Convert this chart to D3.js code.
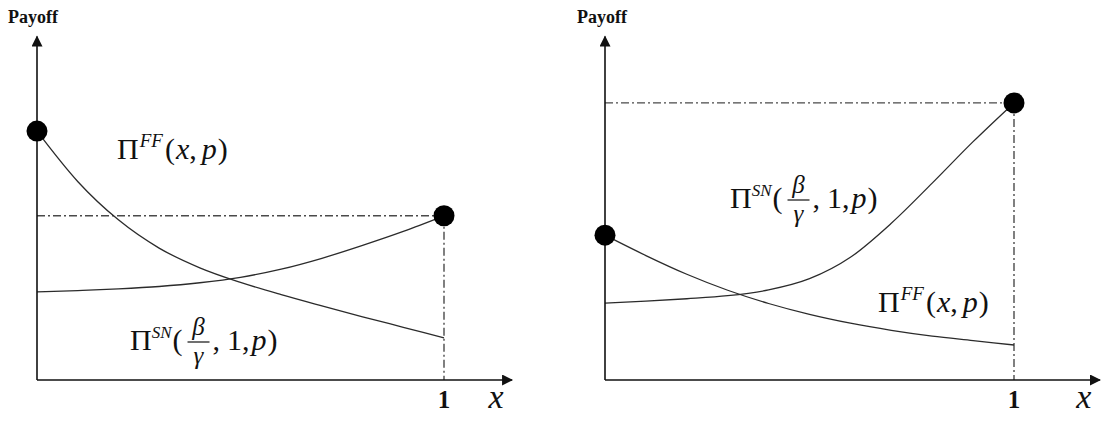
<!DOCTYPE html>
<html>
<head>
<meta charset="utf-8">
<script src="https://cdn.jsdelivr.net/npm/d3@7"></script>
<style>
  body { margin: 0; background: #fff; }
  svg { display: block; }
  .curve { fill: none; stroke: #2b2b2b; stroke-width: 1.3; }
  .guide { fill: none; stroke: #4a4a4a; stroke-width: 1.4; stroke-dasharray: 8,3,2,3; }
  .axis-line { stroke: #111; stroke-width: 1.6; }
  .math { font-family: "Liberation Serif", "Times New Roman", "DejaVu Serif", serif; fill: #111; }
</style>
</head>
<body>
<svg id="chart" width="1109" height="423"></svg>
<script>
var xs = [0, 0.1, 0.2, 0.3, 0.4, 0.5, 0.6, 0.7, 0.8, 0.9, 1];

// left panel: payoffs
var leftFF = [0.732, 0.584, 0.471, 0.388, 0.33, 0.287, 0.251, 0.218, 0.186, 0.155, 0.124];
var leftSN = [0.259, 0.263, 0.268, 0.275, 0.286, 0.302, 0.326, 0.358, 0.396, 0.437, 0.483];

// right panel: payoffs
var rightFF = [0.426, 0.366, 0.311, 0.264, 0.225, 0.193, 0.167, 0.146, 0.129, 0.116, 0.103];
var rightSN = [0.226, 0.232, 0.239, 0.248, 0.265, 0.298, 0.361, 0.461, 0.579, 0.701, 0.815];

var yLabel = "Payoff";
var xLabel = "x";
var xTick = "1";

var svg = d3.select("#chart");

svg.append("defs").append("marker")
    .attr("id", "arrow")
    .attr("viewBox", "0 0 10 10")
    .attr("refX", 9).attr("refY", 5)
    .attr("markerWidth", 13).attr("markerHeight", 11)
    .attr("markerUnits", "userSpaceOnUse")
    .attr("orient", "auto")
    .append("path")
    .attr("d", "M0,0 L10,5 L0,10 Z")
    .attr("fill", "#111");

var y = d3.scaleLinear().domain([0, 1]).range([380, 40]);

var panels = [
    {x0: 37, x1: 444, xEnd: 1.167, ff: leftFF, sn: leftSN, payoffX: 8,
     ffLabel: [117, 159], snLabel: [130, 350]},
    {x0: 605, x1: 1014, xEnd: 1.21, ff: rightFF, sn: rightSN, payoffX: 577,
     ffLabel: [878, 312], snLabel: [730, 208]}
];

panels.forEach(function(p){
    var x = d3.scaleLinear().domain([0, 1]).range([p.x0, p.x1]);
    var g = svg.append("g");

    var ffData = xs.map(function(d, i){ return [d, p.ff[i]]; });
    var snData = xs.map(function(d, i){ return [d, p.sn[i]]; });
    var top = p.sn[p.sn.length - 1];

    // dash-dot guides to the end point
    g.append("line").attr("class", "guide")
        .attr("x1", x(0)).attr("x2", x(1))
        .attr("y1", y(top)).attr("y2", y(top));
    g.append("line").attr("class", "guide")
        .attr("x1", x(1)).attr("x2", x(1))
        .attr("y1", y(top)).attr("y2", y(0));

    var line = d3.line()
        .x(function(d){ return x(d[0]); })
        .y(function(d){ return y(d[1]); })
        .curve(d3.curveMonotoneX);

    g.append("path").datum(ffData).attr("class", "curve").attr("d", line);
    g.append("path").datum(snData).attr("class", "curve").attr("d", line);

    // axes
    g.append("line").attr("class", "axis-line")
        .attr("x1", x(0)).attr("y1", y(0))
        .attr("x2", x(0)).attr("y2", y(1.01))
        .attr("marker-end", "url(#arrow)");
    g.append("line").attr("class", "axis-line")
        .attr("x1", x(0)).attr("y1", y(0))
        .attr("x2", x(p.xEnd)).attr("y2", y(0))
        .attr("marker-end", "url(#arrow)");

    // end points
    g.append("circle").attr("cx", x(0)).attr("cy", y(p.ff[0])).attr("r", 10.5).attr("fill", "#000");
    g.append("circle").attr("cx", x(1)).attr("cy", y(top)).attr("r", 10.5).attr("fill", "#000");

    // axis texts
    g.append("text").attr("class", "math")
        .attr("x", p.payoffX).attr("y", 23)
        .attr("font-size", 18).attr("font-weight", "bold")
        .text(yLabel);
    g.append("text").attr("class", "math")
        .attr("x", x(1)).attr("y", 408).attr("text-anchor", "middle")
        .attr("font-size", 25).attr("font-weight", "bold")
        .text(xTick);
    g.append("text").attr("class", "math")
        .attr("x", x(p.xEnd) - 16).attr("y", 408).attr("text-anchor", "middle")
        .attr("font-size", 34).attr("font-style", "italic")
        .text(xLabel);

    ffLabelAt(g, p.ffLabel[0], p.ffLabel[1]);
    snLabelAt(g, p.snLabel[0], p.snLabel[1]);
});

function ffLabelAt(g, lx, ly){
    var t = g.append("text").attr("class", "math")
        .attr("x", lx).attr("y", ly).attr("font-size", 30);
    t.append("tspan").text("\u03A0");
    t.append("tspan").attr("font-size", 19).attr("font-style", "italic")
        .attr("dy", -12).attr("dx", 1).text("FF");
    t.append("tspan").attr("dy", 12).attr("dx", 2).text("(");
    t.append("tspan").attr("font-style", "italic").attr("dx", 1).text("x");
    t.append("tspan").text(",");
    t.append("tspan").attr("font-style", "italic").attr("dx", 5).text("p");
    t.append("tspan").attr("dx", 1).text(")");
}

function snLabelAt(g, lx, ly){
    var t1 = g.append("text").attr("class", "math")
        .attr("x", lx).attr("y", ly).attr("font-size", 30);
    t1.append("tspan").text("\u03A0");
    t1.append("tspan").attr("font-size", 17).attr("font-style", "italic")
        .attr("dy", -12).text("SN");
    t1.append("tspan").attr("dy", 12).attr("dx", 1).text("(");
    var w1 = t1.node().getComputedTextLength();

    var fx = lx + w1 + 6;
    var fw = 22;
    g.append("text").attr("class", "math")
        .attr("x", fx + fw / 2).attr("y", ly - 15).attr("text-anchor", "middle")
        .attr("font-size", 25).attr("font-style", "italic").text("\u03B2");
    g.append("line")
        .attr("x1", fx).attr("x2", fx + fw)
        .attr("y1", ly - 8).attr("y2", ly - 8)
        .attr("stroke", "#111").attr("stroke-width", 1.2);
    g.append("text").attr("class", "math")
        .attr("x", fx + fw / 2).attr("y", ly + 14).attr("text-anchor", "middle")
        .attr("font-size", 25).attr("font-style", "italic").text("\u03B3");

    var t2 = g.append("text").attr("class", "math")
        .attr("x", fx + fw + 3).attr("y", ly).attr("font-size", 30);
    t2.append("tspan").text(",");
    t2.append("tspan").attr("dx", 7).text("1");
    t2.append("tspan").text(",");
    t2.append("tspan").attr("font-style", "italic").attr("dx", 2).text("p");
    t2.append("tspan").attr("dx", 1).text(")");
}
</script>
</body>
</html>
